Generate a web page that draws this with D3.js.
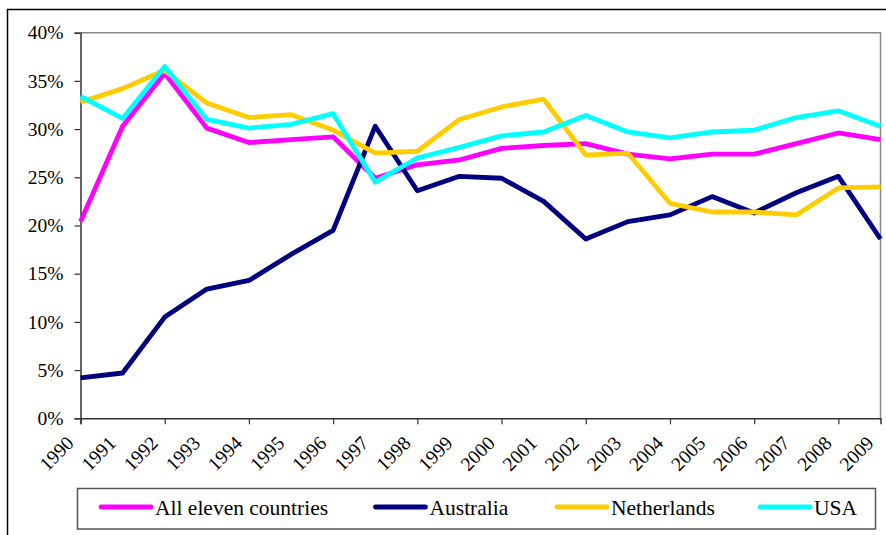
<!DOCTYPE html>
<html>
<head>
<meta charset="utf-8">
<script src="https://cdn.jsdelivr.net/npm/d3@7"></script>
<style>
  html, body { margin: 0; padding: 0; background: #fff; }
  svg { display: block; }
  svg text { font-family: 'Liberation Serif', 'Times New Roman', 'DejaVu Serif', serif !important; }
</style>
</head>
<body>
<svg id="chart" width="886" height="535"></svg>
<script>
// Share of total, by year (percent)
const years = [1990, 1991, 1992, 1993, 1994, 1995, 1996, 1997, 1998, 1999,
               2000, 2001, 2002, 2003, 2004, 2005, 2006, 2007, 2008, 2009];

const allEleven   = [20.4, 30.3, 35.8, 30.1, 28.6, 28.9, 29.2, 24.9, 26.3, 26.8,
                     28.0, 28.3, 28.5, 27.4, 26.9, 27.4, 27.4, 28.5, 29.6, 28.9];
const australia   = [4.2, 4.7, 10.5, 13.4, 14.3, 17.0, 19.5, 30.3, 23.6, 25.1,
                     24.9, 22.5, 18.6, 20.4, 21.1, 23.0, 21.3, 23.4, 25.1, 18.6];
const netherlands = [32.8, 34.2, 36.1, 32.7, 31.2, 31.5, 29.9, 27.5, 27.7, 31.0,
                     32.3, 33.1, 27.3, 27.5, 22.3, 21.4, 21.4, 21.1, 23.9, 24.0];
const usa         = [33.4, 31.1, 36.5, 31.0, 30.1, 30.5, 31.6, 24.5, 27.0, 28.1,
                     29.3, 29.7, 31.4, 29.7, 29.1, 29.7, 29.9, 31.2, 31.9, 30.3];

const seriesNames  = ["All eleven countries", "Australia", "Netherlands", "USA"];
const seriesValues = [allEleven, australia, netherlands, usa];
const seriesColors = ["#ff00ff", "#000080", "#ffcc00", "#00ffff"];

const yTicks = [0, 5, 10, 15, 20, 25, 30, 35, 40];

const svg = d3.select("#chart");

// Chart frame (runs past the right and bottom edges)
svg.append("rect")
  .attr("x", 7.5).attr("y", 9.5)
  .attr("width", 1000).attr("height", 700)
  .attr("fill", "none").attr("stroke", "#000").attr("stroke-width", 1.5);

const plotLeft = 80.5, plotRight = 880.5, plotTop = 32.7, plotBottom = 418.3;

const x = d3.scalePoint().domain(years).range([plotLeft, plotRight]).padding(0);
const y = d3.scaleLinear().domain([0, 40]).range([plotBottom, plotTop]);

// Plot area border (top and right)
svg.append("path")
  .attr("d", `M${plotLeft},${plotTop}H${plotRight}V${plotBottom}`)
  .attr("fill", "none").attr("stroke", "#888").attr("stroke-width", 1.5);

// Y axis
const yAxis = svg.append("g")
  .attr("transform", `translate(${plotLeft},0)`)
  .call(d3.axisLeft(y).tickValues(yTicks).tickSize(6).tickPadding(11)
        .tickFormat(d => d + "%"));
yAxis.attr("font-family", null);
yAxis.select(".domain").attr("stroke", "#333").attr("stroke-width", 1.5);
yAxis.selectAll(".tick line").attr("stroke", "#333").attr("stroke-width", 1.2);
yAxis.selectAll(".tick text")
  .attr("font-size", "19.5px").attr("fill", "#000");

// X axis: tick marks on every second year
const xAxis = svg.append("g")
  .attr("transform", `translate(0,${plotBottom})`)
  .call(d3.axisBottom(x).tickValues(years.filter(d => d % 2 === 0))
        .tickSize(6).tickFormat(""));
xAxis.select(".domain").attr("stroke", "#333").attr("stroke-width", 1.5);
xAxis.selectAll(".tick line").attr("stroke", "#333").attr("stroke-width", 1.2);

// Year labels, rotated
const xLabels = svg.append("g")
  .attr("transform", `translate(0,${plotBottom})`)
  .call(d3.axisBottom(x).tickSize(0).tickFormat(d3.format("d")));
xLabels.attr("font-family", null);
xLabels.select(".domain").remove();
xLabels.selectAll(".tick text")
  .attr("font-size", "19.5px").attr("fill", "#000")
  .attr("text-anchor", "end")
  .attr("y", 0).attr("dy", 0)
  .attr("transform", "translate(-6,26) rotate(-45)");

// Series lines
const line = d3.line()
  .x((d, i) => x(years[i]))
  .y(d => y(d));

svg.append("g").selectAll("path")
  .data(seriesValues)
  .join("path")
  .attr("d", line)
  .attr("fill", "none")
  .attr("stroke", (d, i) => seriesColors[i])
  .attr("stroke-width", 4.8)
  .attr("stroke-linejoin", "round")
  .attr("stroke-linecap", "butt");

// Legend
const legend = svg.append("g");
legend.append("rect")
  .attr("x", 77.5).attr("y", 488.5).attr("width", 798).attr("height", 40.5)
  .attr("fill", "#fff").attr("stroke", "#555").attr("stroke-width", 1.5);

const legendX = [101, 375.5, 557, 760];
const item = legend.selectAll("g.item")
  .data(seriesNames)
  .join("g").attr("class", "item")
  .attr("transform", (d, i) => `translate(${legendX[i]},507)`);
item.append("line")
  .attr("x1", 0).attr("x2", 50).attr("y1", 0).attr("y2", 0)
  .attr("stroke", (d, i) => seriesColors[i])
  .attr("stroke-width", 4.8).attr("stroke-linecap", "round");
item.append("text")
  .attr("x", 54).attr("y", 8)
  .attr("font-size", "21.5px").attr("fill", "#000")
  .text(d => d);
</script>
</body>
</html>
